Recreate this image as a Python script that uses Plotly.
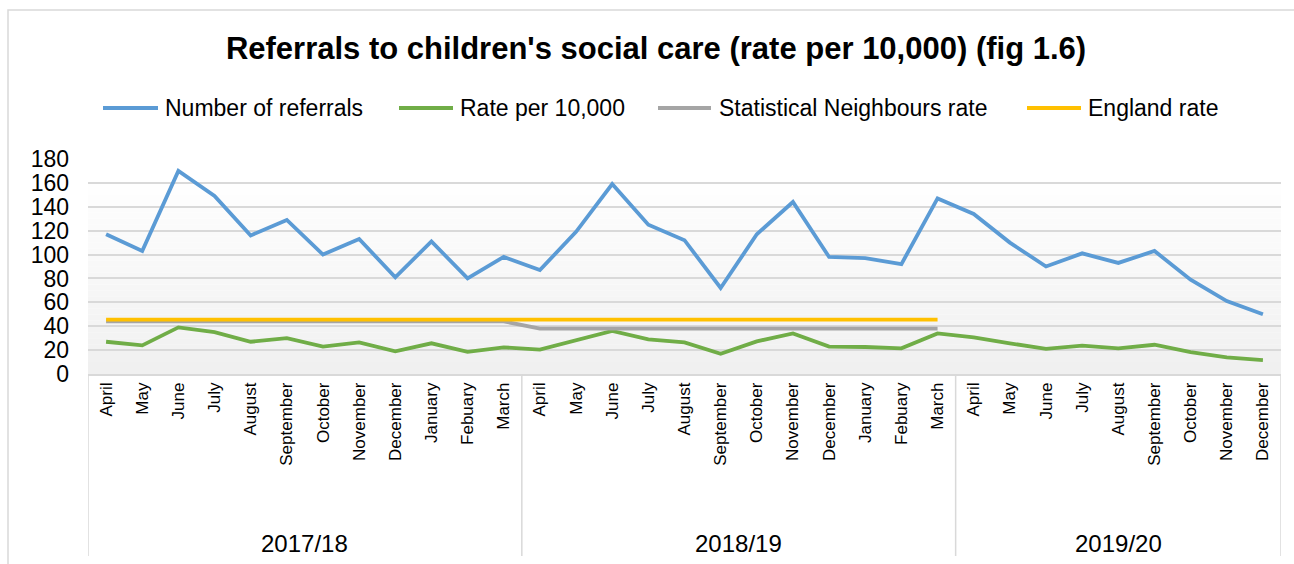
import plotly.graph_objects as go

# ---------------- data ----------------
months_1718 = ["April", "May", "June", "July", "August", "September", "October",
               "November", "December", "January", "Febuary", "March"]
months_1819 = ["April", "May", "June", "July", "August", "September", "October",
               "November", "December", "January", "Febuary", "March"]
months_1920 = ["April", "May", "June", "July", "August", "September", "October",
               "November", "December"]
years = ["2017/18", "2018/19", "2019/20"]

referrals = [117, 103, 170, 149, 116, 129, 100, 113, 81, 111, 80, 98,
             87, 119, 159, 125, 112, 72, 117, 144, 98, 97, 92, 147,
             134, 110, 90, 101, 93, 103, 79, 61, 50]
rate = [27, 24, 39, 35, 27, 30, 23, 26.5, 19, 25.7, 18.5, 22.3,
        20.4, 28.5, 36, 29, 26.5, 17, 27.3, 34, 23, 22.6, 21.5, 34,
        30.7, 25.7, 21, 23.7, 21.5, 24.5, 18.4, 14, 11.7]
sn_rate = [44] * 12 + [38] * 12 + [None] * 9
england_rate = [45.5] * 12 + [45.5] * 12 + [None] * 9

series_names = ["Number of referrals", "Rate per 10,000",
                "Statistical Neighbours rate", "England rate"]
series_colors = ["#5B9BD5", "#70AD47", "#A5A5A5", "#FFC000"]

# ---------------- layout geometry ----------------
W, H = 1294, 564
L, R, T, B = 88, 1281, 159, 374  # plot area in pixels
FONT = "Liberation Sans, Arial, sans-serif"


def px_x(x):
    return (x - L) / (R - L)


def px_y(y):
    return (B - y) / (B - T)


months = months_1718 + months_1819 + months_1920
xs = list(range(len(months)))
groups = [months_1718, months_1819, months_1920]

fig = go.Figure()
for name, vals, col in zip(series_names, [referrals, rate, sn_rate, england_rate], series_colors):
    fig.add_trace(go.Scatter(x=xs, y=vals, mode="lines", name=name,
                             line=dict(color=col, width=3.8),
                             showlegend=False, hoverinfo="x+y+name"))

shapes = []
# gradient background (style only)
nb = 34
for i in range(nb):
    y0 = 170 * i / nb
    y1 = 170 * (i + 1) / nb
    t = i / (nb - 1)
    c = int(round(240 + (255 - 240) * t))
    shapes.append(dict(type="rect", xref="paper", yref="y", x0=0, x1=1, y0=y0, y1=y1,
                       fillcolor=f"rgb({c},{c},{c})", line=dict(width=0), layer="below"))
# outer border
shapes.append(dict(type="rect", xref="paper", yref="paper",
                   x0=px_x(8), x1=px_x(1310), y0=px_y(580), y1=px_y(10),
                   line=dict(color="#D9D9D9", width=1.5), fillcolor="rgba(0,0,0,0)"))
# category group dividers
bounds = [-0.5]
acc = -0.5
for g in groups:
    acc += len(g)
    bounds.append(acc)
for b in bounds:
    shapes.append(dict(type="line", xref="x", yref="paper", x0=b, x1=b,
                       y0=0, y1=px_y(556), line=dict(color="#D9D9D9", width=1.5)))

annotations = []
# year labels
start = 0
for yr, g in zip(years, groups):
    center = start + (len(g) - 1) / 2
    annotations.append(dict(x=center, xref="x", y=px_y(543), yref="paper", text=yr,
                            showarrow=False, xanchor="center", yanchor="middle",
                            font=dict(family=FONT, size=24, color="#000000")))
    start += len(g)

# legend (manual, to match sample line lengths)
leg_line = [(103, 158), (399, 453), (658, 711), (1027, 1081)]
leg_text = [163, 458, 717, 1086]
for name, col, (a, b), tx in zip(series_names, series_colors, leg_line, leg_text):
    shapes.append(dict(type="line", xref="paper", yref="paper", x0=px_x(a), x1=px_x(b),
                       y0=px_y(108), y1=px_y(108), line=dict(color=col, width=3.8)))
    annotations.append(dict(x=px_x(tx), xref="paper", y=px_y(108), yref="paper", text=name,
                            showarrow=False, xanchor="left", yanchor="middle",
                            font=dict(family=FONT, size=23, color="#000000")))

fig.update_layout(
    width=W, height=H,
    margin=dict(l=L, r=W - R, t=T, b=H - B, pad=0),
    paper_bgcolor="#FFFFFF", plot_bgcolor="rgba(0,0,0,0)",
    title=dict(text="Referrals to children's social care (rate per 10,000) (fig 1.6)",
               x=656 / W, xanchor="center",
               y=1 - 48 / H, yref="container", yanchor="middle",
               font=dict(family=FONT, size=31, color="#000000", weight="bold")),
    xaxis=dict(range=[-0.5, len(months) - 0.5], tickvals=xs, ticktext=months,
               tickangle=-90, showgrid=False, zeroline=False, showline=True,
               linecolor="#D9D9D9", linewidth=1.5, ticks="",
               tickfont=dict(family=FONT, size=17, color="#000000")),
    yaxis=dict(range=[0, 180], tickvals=[0, 20, 40, 60, 80, 100, 120, 140, 160, 180],
               showgrid=True, gridcolor="#D9D9D9", gridwidth=1.5, zeroline=False,
               ticks="", ticklabelstandoff=18,
               tickfont=dict(family=FONT, size=23, color="#000000")),
    shapes=shapes, annotations=annotations,
    showlegend=False,
)

fig.write_html("out.html")
